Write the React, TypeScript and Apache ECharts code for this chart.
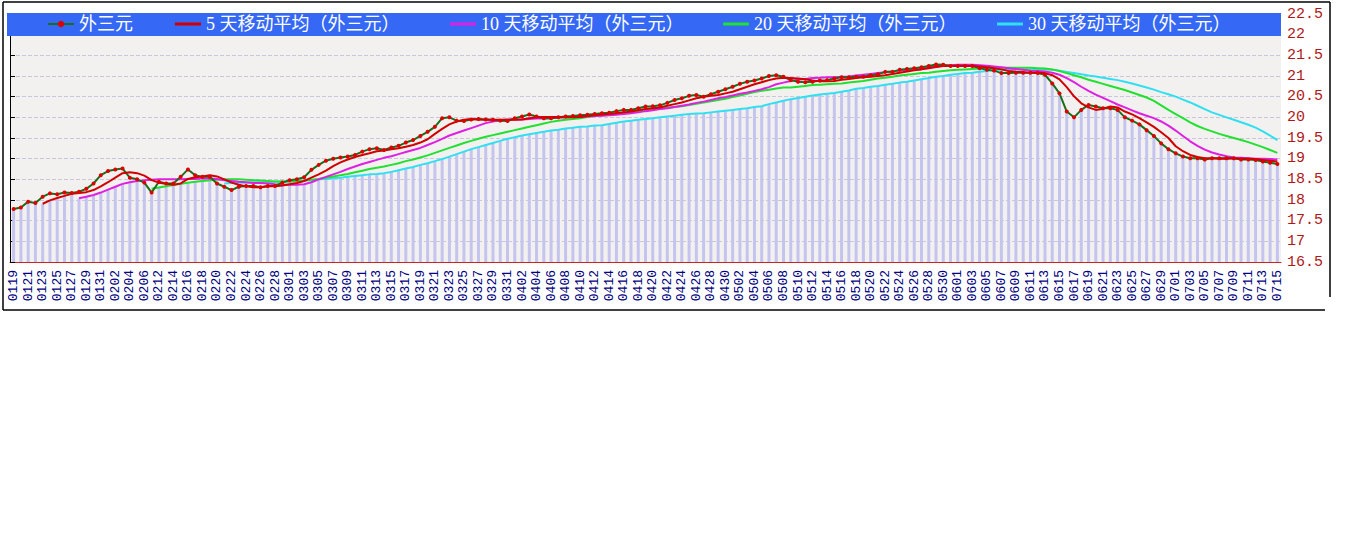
import React, { useEffect, useRef } from "react";
import * as echarts from "echarts";

const dates = [
  "0119","0120","0121","0122","0123","0124","0125","0126","0127","0128","0129","0130","0131",
  "0201","0202","0203","0204","0205","0206","0211",
  "0212","0213","0214","0215","0216","0217","0218","0219","0220","0221","0222","0223","0224","0225","0226","0227","0228","0229",
  "0301","0302","0303","0304","0305","0306","0307","0308","0309","0310","0311","0312","0313","0314","0315","0316","0317","0318","0319","0320","0321","0322","0323","0324","0325","0326","0327","0328","0329","0330","0331",
  "0401","0402","0403","0404","0405","0406","0407","0408","0409","0410","0411","0412","0413","0414","0415","0416","0417","0418","0419","0420","0421","0422","0423","0424","0425","0426","0427","0428","0429","0430",
  "0501","0502","0503","0504","0505","0506","0507","0508","0509","0510","0511","0512","0513","0514","0515","0516","0517","0518","0519","0520","0521","0522","0523","0524","0525","0526","0527","0528","0529","0530","0531",
  "0601","0602","0603","0604","0605","0606","0607","0608","0609","0610","0611","0612","0613","0614","0615","0616","0617","0618","0619","0620","0621","0622","0623","0624","0625","0626","0627","0628","0629","0630",
  "0701","0702","0703","0704","0705","0706","0707","0708","0709","0710","0711","0712","0713","0714","0715"
];

const price = [
  17.78, 17.82, 17.96, 17.93, 18.08, 18.16, 18.14, 18.18, 18.17, 18.20,
  18.27, 18.40, 18.60, 18.70, 18.74, 18.76, 18.54, 18.50, 18.42, 18.18,
  18.44, 18.40, 18.40, 18.56, 18.74, 18.60, 18.56, 18.56, 18.40, 18.32,
  18.24, 18.32, 18.34, 18.34, 18.31, 18.34, 18.34, 18.42, 18.48, 18.50,
  18.55, 18.73, 18.85, 18.95, 19.00, 19.03, 19.05, 19.09, 19.17, 19.23,
  19.25, 19.21, 19.27, 19.31, 19.39, 19.45, 19.55, 19.65, 19.77, 19.98,
  20.00, 19.92, 19.91, 19.95, 19.96, 19.95, 19.94, 19.92, 19.91, 19.98,
  20.02, 20.07, 20.02, 19.98, 19.98, 20.00, 20.02, 20.03, 20.05, 20.06,
  20.08, 20.10, 20.11, 20.15, 20.18, 20.18, 20.22, 20.26, 20.27, 20.29,
  20.35, 20.42, 20.46, 20.52, 20.54, 20.50, 20.56, 20.62, 20.68, 20.74,
  20.81, 20.86, 20.89, 20.94, 21.00, 21.02, 20.98, 20.90, 20.86, 20.85,
  20.86, 20.89, 20.90, 20.94, 20.97, 20.97, 20.98, 20.98, 21.02, 21.04,
  21.10, 21.10, 21.15, 21.17, 21.19, 21.21, 21.24, 21.28, 21.27, 21.24,
  21.24, 21.24, 21.24, 21.19, 21.15, 21.13, 21.07, 21.07, 21.08, 21.08,
  21.08, 21.07, 21.03, 20.82, 20.58, 20.14, 20.00, 20.18, 20.30, 20.26,
  20.22, 20.22, 20.18, 20.00, 19.92, 19.83, 19.69, 19.55, 19.37, 19.23,
  19.13, 19.05, 19.01, 19.01, 18.98, 19.01, 19.01, 19.01, 19.01, 18.98,
  18.98, 18.97, 18.93, 18.90, 18.87
];

const ma5 = [
  null, null, null, null,
  17.91, 17.99, 18.05, 18.10, 18.15, 18.17, 18.19, 18.24, 18.33, 18.43,
  18.54, 18.65, 18.67, 18.65, 18.59, 18.48, 18.42, 18.39, 18.37, 18.40,
  18.51, 18.55, 18.57, 18.60, 18.57, 18.50, 18.42, 18.37, 18.33, 18.31,
  18.31, 18.33, 18.33, 18.35, 18.38, 18.41, 18.46, 18.54, 18.62, 18.71,
  18.82, 18.91, 18.98, 19.04, 19.09, 19.13, 19.18, 19.20, 19.23, 19.25,
  19.29, 19.33, 19.39, 19.47, 19.60, 19.72, 19.83, 19.90, 19.94, 19.96,
  19.95, 19.94, 19.94, 19.94, 19.94, 19.94, 19.95, 19.98, 20.00, 20.01,
  20.01, 20.01, 20.00, 20.00, 20.01, 20.03, 20.05, 20.07, 20.08, 20.10,
  20.12, 20.14, 20.17, 20.20, 20.22, 20.24, 20.28, 20.32, 20.36, 20.41,
  20.46, 20.50, 20.52, 20.54, 20.58, 20.62, 20.68, 20.74, 20.80, 20.85,
  20.90, 20.94, 20.96, 20.95, 20.94, 20.92, 20.89, 20.87, 20.87, 20.88,
  20.91, 20.93, 20.95, 20.97, 20.98, 21.00, 21.02, 21.05, 21.08, 21.11,
  21.14, 21.16, 21.19, 21.22, 21.24, 21.25, 21.25, 21.25, 21.24, 21.23,
  21.21, 21.19, 21.16, 21.12, 21.10, 21.09, 21.08, 21.08, 21.07, 21.02,
  20.92, 20.73, 20.51, 20.34, 20.24, 20.18, 20.21, 20.26, 20.24, 20.14,
  20.07, 19.98, 19.88, 19.77, 19.64, 19.50, 19.30, 19.18, 19.09, 19.04,
  19.01, 19.01, 19.00, 19.00, 19.01, 19.00, 19.00, 18.99, 18.97, 18.95,
  18.93
];

const ma10 = [
  null, null, null, null, null, null, null, null, null,
  18.04, 18.08, 18.12, 18.18, 18.25, 18.32, 18.39, 18.43, 18.46, 18.48,
  18.49, 18.50, 18.50, 18.50, 18.50, 18.51, 18.51, 18.52, 18.52, 18.51,
  18.48, 18.46, 18.44, 18.43, 18.41, 18.41, 18.40, 18.38, 18.37, 18.37,
  18.37, 18.38, 18.43, 18.50, 18.56, 18.62, 18.68, 18.75, 18.81, 18.87,
  18.92, 18.97, 19.02, 19.06, 19.11, 19.16, 19.21, 19.26, 19.33, 19.40,
  19.48, 19.56, 19.62, 19.68, 19.74, 19.80, 19.86, 19.90, 19.93, 19.95,
  19.95, 19.95, 19.96, 19.97, 19.97, 19.98, 19.99, 20.00, 20.01, 20.01,
  20.02, 20.03, 20.04, 20.05, 20.06, 20.08, 20.10, 20.12, 20.15, 20.17,
  20.20, 20.22, 20.25, 20.28, 20.31, 20.35, 20.38, 20.42, 20.46, 20.49,
  20.53, 20.57, 20.60, 20.64, 20.68, 20.73, 20.80, 20.84, 20.88, 20.91,
  20.93, 20.95, 20.96, 20.97, 20.97, 20.98, 20.99, 21.01, 21.03, 21.05,
  21.07, 21.09, 21.11, 21.13, 21.15, 21.17, 21.19, 21.21, 21.23, 21.25,
  21.26, 21.27, 21.27, 21.27, 21.26, 21.25, 21.23, 21.21, 21.19, 21.17,
  21.15, 21.13, 21.12, 21.11, 21.08, 21.03, 20.95, 20.85, 20.74, 20.64,
  20.55, 20.47, 20.39, 20.31, 20.24, 20.17, 20.10, 20.04, 19.98, 19.90,
  19.80, 19.68, 19.55, 19.42, 19.31, 19.22, 19.15, 19.10, 19.06, 19.03,
  19.02, 19.01, 19.00, 19.00, 18.99, 18.98
];

const ma20 = [
  null, null, null, null, null, null, null, null, null, null,
  null, null, null, null, null, null, null, null, null,
  18.27, 18.30, 18.33, 18.36, 18.39, 18.42, 18.44, 18.46, 18.48, 18.49,
  18.50, 18.50, 18.50, 18.49, 18.48, 18.47, 18.46, 18.45, 18.45, 18.45,
  18.46, 18.47, 18.49, 18.51, 18.54, 18.57, 18.60, 18.63, 18.67, 18.71,
  18.75, 18.78, 18.81, 18.85, 18.89, 18.94, 18.98, 19.03, 19.08, 19.14,
  19.20, 19.26, 19.32, 19.38, 19.43, 19.48, 19.53, 19.57, 19.61, 19.65,
  19.69, 19.73, 19.77, 19.81, 19.85, 19.89, 19.92, 19.94, 19.96, 19.98,
  20.01, 20.03, 20.05, 20.07, 20.09, 20.11, 20.13, 20.15, 20.17, 20.19,
  20.21, 20.23, 20.25, 20.27, 20.30, 20.33, 20.36, 20.39, 20.42, 20.45,
  20.49, 20.53, 20.57, 20.61, 20.64, 20.67, 20.70, 20.72, 20.72, 20.74,
  20.76, 20.78, 20.79, 20.80, 20.81, 20.82, 20.84, 20.86, 20.88, 20.91,
  20.94, 20.96, 20.98, 21.01, 21.03, 21.05, 21.07, 21.08, 21.10, 21.12,
  21.14, 21.15, 21.16, 21.17, 21.18, 21.19, 21.19, 21.20, 21.20, 21.20,
  21.20, 21.20, 21.19, 21.18, 21.16, 21.12, 21.07, 21.02, 20.97, 20.91,
  20.86, 20.81, 20.76, 20.71, 20.66, 20.60, 20.54, 20.48, 20.40, 20.29,
  20.18, 20.08, 19.98, 19.88, 19.79, 19.72, 19.66, 19.60, 19.55, 19.50,
  19.45, 19.40, 19.34, 19.28, 19.21, 19.14
];

const ma30 = [
  null, null, null, null, null, null, null, null, null, null,
  null, null, null, null, null, null, null, null, null, null,
  null, null, null, null, null, null, null, null, null,
  18.40, 18.41, 18.42, 18.42, 18.43, 18.43, 18.43, 18.44, 18.44, 18.45,
  18.46, 18.47, 18.48, 18.50, 18.51, 18.53, 18.54, 18.56, 18.58, 18.60,
  18.62, 18.63, 18.65, 18.68, 18.72, 18.76, 18.80, 18.85, 18.89, 18.94,
  18.99, 19.05, 19.11, 19.17, 19.23, 19.28, 19.33, 19.38, 19.43, 19.48,
  19.52, 19.56, 19.59, 19.62, 19.65, 19.68, 19.70, 19.73, 19.75, 19.77,
  19.78, 19.80, 19.81, 19.84, 19.87, 19.90, 19.92, 19.94, 19.96, 19.98,
  20.00, 20.02, 20.04, 20.06, 20.08, 20.09, 20.10, 20.12, 20.14, 20.16,
  20.18, 20.20, 20.22, 20.25, 20.27, 20.32, 20.36, 20.40, 20.44, 20.47,
  20.50, 20.53, 20.55, 20.57, 20.59, 20.62, 20.65, 20.69, 20.71, 20.74,
  20.76, 20.79, 20.81, 20.84, 20.86, 20.89, 20.92, 20.95, 20.98, 21.00,
  21.03, 21.05, 21.07, 21.08, 21.10, 21.12, 21.14, 21.15, 21.15, 21.16,
  21.16, 21.16, 21.16, 21.16, 21.15, 21.13, 21.10, 21.07, 21.04, 21.01,
  20.99, 20.96, 20.93, 20.90, 20.86, 20.82, 20.77, 20.72, 20.67, 20.61,
  20.56, 20.50, 20.43, 20.36, 20.28, 20.20, 20.12, 20.06, 20.00, 19.94,
  19.88, 19.82, 19.75, 19.66, 19.56, 19.45
];

const yTicksMin = 16.5;
const yTicksMax = 22.5;
const yTickStep = 0.5;

const seriesNames = [
  "外三元",
  "5 天移动平均（外三元）",
  "10 天移动平均（外三元）",
  "20 天移动平均（外三元）",
  "30 天移动平均（外三元）"
];

export default function App() {
  const ref = useRef<HTMLDivElement>(null);

  useEffect(() => {
    if (!ref.current) return;
    const chart = echarts.init(ref.current, null, { renderer: "svg" });

    const bars = price.map((p, i) => {
      const vals = [p, ma5[i], ma10[i], ma20[i], ma30[i]].filter(
        (v) => v !== null && v !== undefined
      ) as number[];
      return Math.min(...vals);
    });

    const mono = "'Liberation Mono', 'DejaVu Sans Mono', monospace";
    const legendFont = "'Liberation Serif', 'Noto Sans CJK SC', serif";
    const lefts = [47, 175, 450, 723, 997];

    const legends = seriesNames.map((n, k) => {
      const base: any = {
        top: 15,
        padding: 0,
        left: lefts[k],
        itemWidth: 26,
        selectedMode: false,
        textStyle: { color: "#ffffff", fontSize: 18, fontFamily: legendFont },
        data: [n],
      };
      if (k === 0) {
        base.itemHeight = 8;
      } else {
        base.icon = "rect";
        base.itemHeight = 3;
      }
      return base;
    });

    chart.setOption({
      animation: false,
      backgroundColor: "#ffffff",
      grid: {
        left: 10,
        top: 14,
        width: 1271,
        height: 248,
        show: true,
        backgroundColor: "#f3f1ef",
        borderWidth: 0,
      },
      legend: legends,
      graphic: [
        {
          type: "rect",
          shape: { x: 7, y: 13, width: 1274, height: 23 },
          style: { fill: "#3468f5" },
          z: 3,
        },
        { type: "line", shape: { x1: 3, y1: 2, x2: 1330, y2: 2 }, style: { stroke: "#000", lineWidth: 1.5 }, z: 10 },
        { type: "line", shape: { x1: 3, y1: 2, x2: 3, y2: 310 }, style: { stroke: "#000", lineWidth: 1.5 }, z: 10 },
        { type: "line", shape: { x1: 3, y1: 310, x2: 1325, y2: 310 }, style: { stroke: "#000", lineWidth: 1.5 }, z: 10 },
        { type: "line", shape: { x1: 1330, y1: 2, x2: 1330, y2: 297 }, style: { stroke: "#000", lineWidth: 1.5 }, z: 10 },
      ],
      xAxis: {
        type: "category",
        data: dates,
        boundaryGap: true,
        axisLine: { show: true, lineStyle: { color: "#cc2222", width: 1 } },
        axisTick: {
          show: true,
          inside: true,
          length: 4,
          interval: 0,
          alignWithLabel: true,
          lineStyle: { color: "#cc2222" },
        },
        axisLabel: {
          interval: 1,
          rotate: 90,
          color: "#000080",
          fontFamily: mono,
          fontSize: 13,
          margin: 8,
        },
        splitLine: { show: false },
      },
      yAxis: [
        {
          type: "value",
          position: "right",
          min: yTicksMin,
          max: yTicksMax,
          interval: yTickStep,
          startValue: yTicksMin,
          axisLine: { show: false },
          axisTick: { show: false },
          axisLabel: {
            color: "#b01818",
            fontFamily: mono,
            fontSize: 15,
            margin: 6,
          },
          splitLine: {
            show: true,
            lineStyle: { color: "#c8c8dc", type: "dashed", width: 1 },
          },
        },
        {
          type: "value",
          position: "left",
          min: yTicksMin,
          max: yTicksMax,
          interval: yTickStep,
          axisLine: { show: true, onZero: false, lineStyle: { color: "#000000", width: 1 } },
          axisTick: { show: true, inside: true, length: 5, lineStyle: { color: "#000000" } },
          axisLabel: { show: false },
          splitLine: { show: false },
        },
      ],
      series: [
        {
          type: "bar",
          data: bars,
          barWidth: 3,
          yAxisIndex: 0,
          silent: true,
          itemStyle: { color: "#c4c4ef" },
          z: 1,
        },
        {
          name: seriesNames[4],
          type: "line",
          data: ma30,
          symbol: "none",
          lineStyle: { color: "#30e0f0", width: 2 },
          itemStyle: { color: "#30e0f0" },
          z: 2,
        },
        {
          name: seriesNames[3],
          type: "line",
          data: ma20,
          symbol: "none",
          lineStyle: { color: "#20e030", width: 2 },
          itemStyle: { color: "#20e030" },
          z: 2,
        },
        {
          name: seriesNames[2],
          type: "line",
          data: ma10,
          symbol: "none",
          lineStyle: { color: "#e020e0", width: 2 },
          itemStyle: { color: "#e020e0" },
          z: 2,
        },
        {
          name: seriesNames[0],
          type: "line",
          data: price,
          symbol: "circle",
          symbolSize: 4,
          lineStyle: { color: "#1a6e1a", width: 2 },
          itemStyle: { color: "#dd0000", borderWidth: 0 },
          z: 2,
        },
        {
          name: seriesNames[1],
          type: "line",
          data: ma5,
          symbol: "none",
          lineStyle: { color: "#d00000", width: 2 },
          itemStyle: { color: "#d00000" },
          z: 2,
        },
      ],
    });

    return () => {
      chart.dispose();
    };
  }, []);

  return (
    <div
      ref={ref}
      style={{ position: "absolute", left: 0, top: 0, width: 1348, height: 541 }}
    />
  );
}
